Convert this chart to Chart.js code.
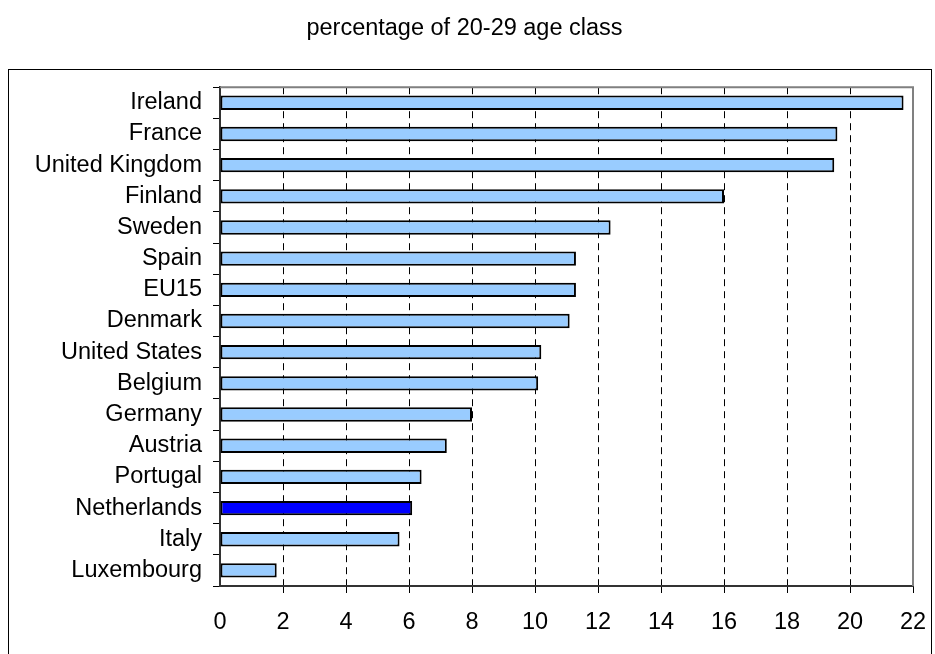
<!DOCTYPE html>
<html>
<head>
<meta charset="utf-8">
<script src="https://cdn.jsdelivr.net/npm/chart.js@4"></script>
<style>
  html, body { margin: 0; padding: 0; background: #fff; }
  #wrap { position: relative; width: 935px; height: 654px; }
</style>
</head>
<body>
<div id="wrap"><canvas id="c" width="935" height="654"></canvas></div>
<script>
const titleText = "percentage of 20-29 age class";
const categories = ["Ireland", "France", "United Kingdom", "Finland", "Sweden", "Spain", "EU15", "Denmark",
  "United States", "Belgium", "Germany", "Austria", "Portugal", "Netherlands", "Italy", "Luxembourg"];
const values = [21.7, 19.6, 19.5, 16.0, 12.4, 11.3, 11.3, 11.1, 10.2, 10.1, 8.0, 7.2, 6.4, 6.1, 5.7, 1.8];
const highlight = "Netherlands";
const xMin = 0, xMax = 22, xStep = 2;

const FONT = "'Liberation Sans', Arial, sans-serif";

const frame = {
  id: 'frame',
  beforeDraw(chart) {
    const ctx = chart.ctx;
    ctx.save();
    ctx.strokeStyle = '#000';
    ctx.lineWidth = 1;
    ctx.strokeRect(8.5, 69.5, 923, 700);
    ctx.restore();
  },
  beforeDatasetsDraw(chart) {
    const a = chart.chartArea, ctx = chart.ctx;
    ctx.save();
    ctx.strokeStyle = '#808080';
    ctx.lineWidth = 2;
    ctx.beginPath();
    ctx.moveTo(a.left, a.top);
    ctx.lineTo(a.right, a.top);
    ctx.lineTo(a.right, a.bottom);
    ctx.stroke();
    ctx.restore();
  }
};

new Chart(document.getElementById('c'), {
  type: 'bar',
  data: {
    labels: categories,
    datasets: [{
      data: values,
      backgroundColor: categories.map(c => c === highlight ? '#0000FF' : '#99CCFF'),
      borderColor: '#000',
      borderWidth: 2,
      borderSkipped: false,
      barPercentage: 0.46,
      categoryPercentage: 1
    }]
  },
  options: {
    indexAxis: 'y',
    responsive: false,
    animation: false,
    devicePixelRatio: 1,
    layout: { padding: { left: 16, right: 22, top: 0, bottom: 0 } },
    plugins: {
      legend: { display: false },
      tooltip: { enabled: false },
      title: {
        display: true,
        text: titleText,
        color: '#000',
        font: { family: FONT, size: 23.5, weight: 'normal' },
        padding: { top: 14, bottom: 45 }
      }
    },
    scales: {
      x: {
        min: xMin, max: xMax,
        ticks: { stepSize: xStep, color: '#000', font: { family: FONT, size: 23.5 }, padding: 15 },
        grid: {
          color: ctx => (ctx.tick && (ctx.tick.value === xMin)) ? 'rgba(0,0,0,0)' : '#000',
          lineWidth: 1,
          tickLength: 7
        },
        border: { color: '#333', width: 2, dash: [7, 5] },
        afterFit: s => { s.height = 68; s.paddingLeft = 0; s.paddingRight = 0; }
      },
      y: {
        ticks: { color: '#000', font: { family: FONT, size: 23.5 }, padding: 11, autoSkip: false },
        grid: { drawOnChartArea: false, drawTicks: true, tickLength: 7, color: '#000', offset: true },
        border: { color: '#333', width: 2 },
        afterFit: s => { s.width = 204; s.paddingTop = 0; s.paddingBottom = 0; }
      }
    }
  },
  plugins: [frame]
});
</script>
</body>
</html>
